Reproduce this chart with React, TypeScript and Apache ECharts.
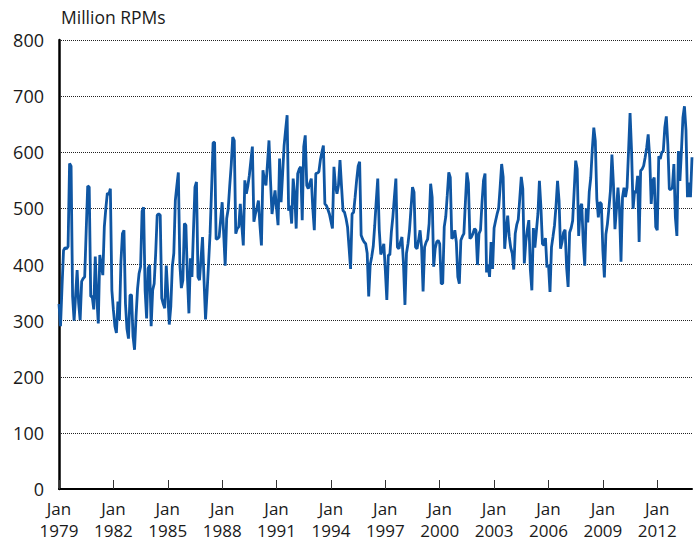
import { useEffect, useRef } from "react";
import * as echarts from "echarts";

// Monthly revenue passenger miles (millions), Jan–Dec of each year
const y1979 = [330, 290, 360, 425, 430, 428, 432, 580, 575, 343, 300, 345];
const y1980 = [390, 331, 301, 370, 375, 378, 460, 540, 538, 343, 343, 320];
const y1981 = [414, 343, 295, 417, 400, 381, 467, 500, 527, 525, 535, 354];
const y1982 = [319, 290, 278, 334, 301, 405, 455, 461, 330, 285, 268, 345];
const y1983 = [346, 272, 248, 307, 357, 384, 396, 495, 502, 354, 304, 393];
const y1984 = [399, 290, 354, 366, 420, 488, 490, 488, 340, 330, 322, 398];
const y1985 = [350, 293, 325, 396, 420, 514, 540, 564, 400, 358, 372, 473];
const y1986 = [470, 378, 313, 411, 378, 460, 538, 547, 378, 372, 410, 449];
const y1987 = [372, 302, 350, 402, 455, 535, 617, 618, 445, 446, 449, 480];
const y1988 = [511, 455, 398, 482, 499, 540, 577, 627, 621, 455, 464, 467];
const y1989 = [508, 470, 434, 550, 526, 540, 559, 585, 610, 476, 490, 500];
const y1990 = [514, 470, 434, 568, 550, 541, 580, 621, 550, 490, 511, 532];
const y1991 = [500, 470, 589, 511, 560, 612, 640, 666, 496, 505, 473, 553];
const y1992 = [526, 464, 562, 570, 574, 479, 610, 630, 541, 535, 545, 553];
const y1993 = [500, 461, 562, 563, 565, 586, 600, 612, 508, 505, 498, 490];
const y1994 = [477, 464, 574, 540, 526, 541, 586, 540, 496, 493, 482, 467];
const y1995 = [430, 392, 490, 493, 520, 550, 575, 583, 452, 445, 440, 437];
const y1996 = [420, 343, 400, 414, 432, 470, 514, 553, 461, 418, 425, 437];
const y1997 = [390, 337, 417, 417, 458, 485, 520, 553, 431, 428, 440, 449];
const y1998 = [402, 328, 420, 437, 461, 500, 538, 529, 431, 428, 443, 461];
const y1999 = [431, 352, 431, 440, 445, 473, 544, 520, 396, 428, 440, 443];
const y2000 = [437, 366, 366, 467, 485, 523, 564, 555, 446, 449, 461, 440];
const y2001 = [378, 366, 443, 450, 455, 511, 564, 545, 446, 449, 455, 464];
const y2002 = [461, 399, 455, 461, 510, 550, 562, 386, 400, 378, 440, 392];
const y2003 = [465, 478, 490, 500, 538, 579, 556, 428, 463, 487, 450, 430];
const y2004 = [420, 391, 455, 471, 480, 518, 556, 535, 402, 441, 462, 479];
const y2005 = [391, 354, 465, 430, 460, 490, 549, 502, 437, 434, 447, 395];
const y2006 = [400, 351, 431, 450, 470, 505, 549, 514, 428, 440, 457, 462];
const y2007 = [395, 360, 457, 465, 478, 531, 585, 570, 451, 502, 508, 440];
const y2008 = [398, 500, 475, 530, 555, 605, 644, 620, 517, 484, 511, 508];
const y2009 = [425, 377, 454, 472, 500, 531, 596, 543, 463, 499, 537, 499];
const y2010 = [405, 520, 537, 520, 537, 602, 670, 602, 499, 531, 528, 558];
const y2011 = [440, 567, 570, 576, 591, 608, 632, 591, 508, 549, 555, 467];
const y2012 = [461, 593, 588, 600, 602, 644, 664, 614, 534, 534, 537, 579];
const y2013 = [484, 451, 602, 549, 602, 662, 682, 640, 520, 546, 520, 591];

const yearly = [
  y1979, y1980, y1981, y1982, y1983, y1984, y1985, y1986, y1987, y1988,
  y1989, y1990, y1991, y1992, y1993, y1994, y1995, y1996, y1997, y1998,
  y1999, y2000, y2001, y2002, y2003, y2004, y2005, y2006, y2007, y2008,
  y2009, y2010, y2011, y2012, y2013,
];
const firstYear = 1979;
const monthNames = ["Jan", "Feb", "Mar", "Apr", "May", "Jun", "Jul", "Aug", "Sep", "Oct", "Nov", "Dec"];
const yTicks = [0, 100, 200, 300, 400, 500, 600, 700, 800];
const labelEvery = 36; // every 3 years
const unitLabel = "Million RPMs";

const FONT = "'Open Sans', 'Noto Sans', sans-serif";
const TEXT = "#1a1a1a";

export default function App() {
  const ref = useRef<HTMLDivElement>(null);

  useEffect(() => {
    if (!ref.current) return;
    const chart = echarts.init(ref.current, undefined, { renderer: "svg" });
    const categories: string[] = [];
    const values: number[] = [];
    yearly.forEach((arr, yi) => {
      arr.forEach((v, mi) => {
        categories.push(`${monthNames[mi]} ${firstYear + yi}`);
        values.push(v);
      });
    });

    chart.setOption({
      animation: false,
      textStyle: { fontFamily: FONT },
      grid: { left: 59, right: 6, top: 40, bottom: 55, containLabel: false },
      graphic: [
        {
          type: "text",
          left: 61,
          top: 8,
          style: { text: unitLabel, fontSize: 17.5, fill: TEXT, fontFamily: FONT },
        },
      ],
      xAxis: {
        type: "category",
        data: categories,
        boundaryGap: false,
        axisLine: { show: true, lineStyle: { color: "#000", width: 2 } },
        axisTick: {
          show: true,
          inside: true,
          length: 9,
          interval: (i: number) => i % labelEvery === 0,
          lineStyle: { color: "#333", width: 1 },
        },
        axisLabel: {
          interval: (i: number) => i % labelEvery === 0,
          formatter: (v: string) => v.replace(" ", "\n"),
          fontSize: 17,
          lineHeight: 22,
          color: TEXT,
          margin: 8,
          fontFamily: FONT,
        },
        splitLine: { show: false },
      },
      yAxis: {
        type: "value",
        min: yTicks[0],
        max: yTicks[yTicks.length - 1],
        interval: 100,
        axisLine: { show: true, lineStyle: { color: "#000", width: 2.5 } },
        axisTick: { show: false },
        axisLabel: { fontSize: 18, color: TEXT, margin: 15, fontFamily: FONT },
        splitLine: { show: true, lineStyle: { type: "dotted", color: "#222", width: 1 } },
      },
      series: [
        {
          type: "line",
          data: values,
          showSymbol: false,
          symbol: "none",
          lineStyle: { color: "#0f56a3", width: 2.8 },
          z: 3,
        },
      ],
    });
    return () => chart.dispose();
  }, []);

  return (
    <div
      ref={ref}
      style={{ position: "fixed", left: 0, top: 0, width: 698, height: 544, background: "#fff" }}
    />
  );
}
